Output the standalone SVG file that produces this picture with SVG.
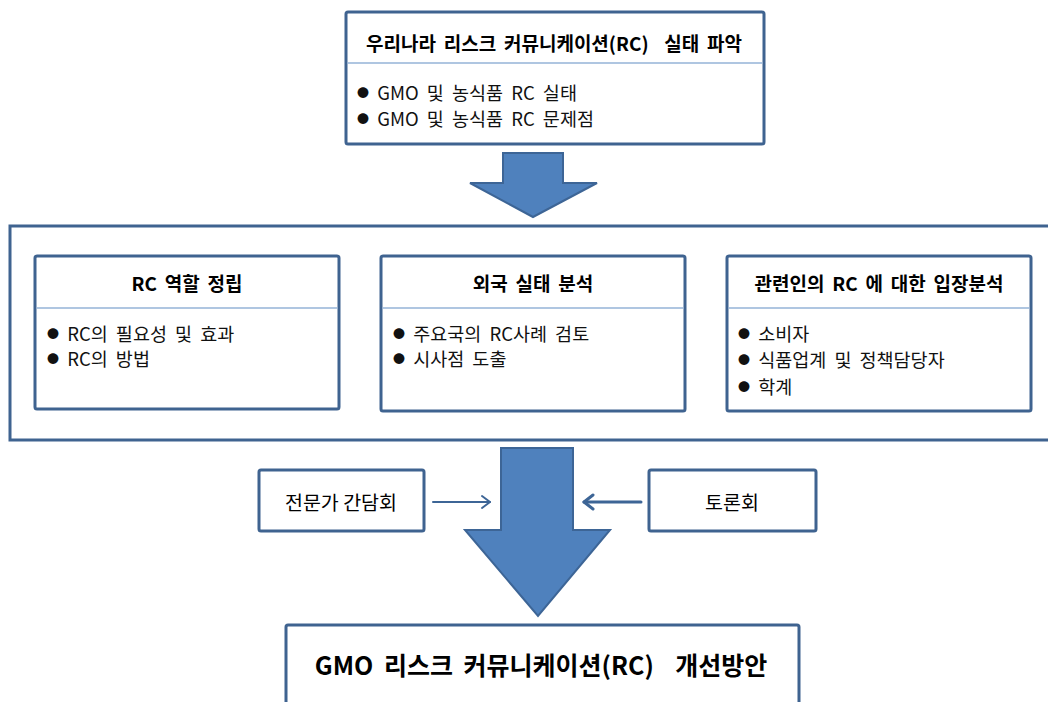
<svg xmlns="http://www.w3.org/2000/svg" width="1048" height="702" viewBox="0 0 1048 702">
  <defs>
    <style>
      .box { fill: #ffffff; stroke: #3f6390; stroke-width: 3; }
      .div { stroke: #95b3d7; stroke-width: 1.5; }
      .title { font-family: "Noto Sans CJK KR", "Noto Sans", sans-serif; font-size: 19px; font-weight: bold; fill: #000; text-anchor: middle; dominant-baseline: central; word-spacing: 3.5px; }
      .label { font-family: "Noto Sans CJK KR", "Noto Sans", sans-serif; font-size: 19.5px; fill: #000; text-anchor: middle; dominant-baseline: central; }
      .item { font-family: "Noto Sans CJK KR", "Noto Sans", sans-serif; font-size: 18.5px; fill: #111; dominant-baseline: central; word-spacing: 4px; }
      .dot { font-size: 12px; }
      .big { fill: #4f81bd; stroke: #3d6596; stroke-width: 2; stroke-linejoin: miter; }
      .thin { fill: none; stroke: #3d6596; stroke-linecap: round; stroke-linejoin: round; }
    </style>
  </defs>
  <rect width="1048" height="702" fill="#ffffff"/>

  <!-- top: current state -->
  <g id="node-current">
    <rect class="box" x="346" y="12" width="418" height="132" rx="2"/>
    <line class="div" x1="347.5" y1="63" x2="762.5" y2="63"/>
    <text class="title" x="554" y="42" xml:space="preserve">우리나라 리스크 커뮤니케이션(RC)  실태 파악</text>
    <text class="item" x="357" y="92"><tspan class="dot">●</tspan> GMO 및 농식품 RC 실태</text>
    <text class="item" x="357" y="118"><tspan class="dot">●</tspan> GMO 및 농식품 RC 문제점</text>
  </g>

  <!-- analysis container -->
  <g id="node-analysis">
    <rect class="box" x="10" y="226" width="1060" height="214"/>
  </g>

  <g id="node-role">
    <rect class="box" x="35" y="256" width="304" height="153" rx="2"/>
    <line class="div" x1="36.5" y1="308" x2="337.5" y2="308"/>
    <text class="title" x="187" y="282">RC 역할 정립</text>
    <text class="item" x="47" y="333"><tspan class="dot">●</tspan> RC의 필요성 및 효과</text>
    <text class="item" x="47" y="358"><tspan class="dot">●</tspan> RC의 방법</text>
  </g>

  <g id="node-foreign">
    <rect class="box" x="381" y="256" width="304" height="155" rx="2"/>
    <line class="div" x1="382.5" y1="308" x2="683.5" y2="308"/>
    <text class="title" x="533" y="282">외국 실태 분석</text>
    <text class="item" x="393" y="333"><tspan class="dot">●</tspan> 주요국의 RC사례 검토</text>
    <text class="item" x="393" y="358"><tspan class="dot">●</tspan> 시사점 도출</text>
  </g>

  <g id="node-stakeholders">
    <rect class="box" x="727" y="256" width="304" height="155" rx="2"/>
    <line class="div" x1="728.5" y1="308" x2="1029.5" y2="308"/>
    <text class="title" x="879" y="282">관련인의 RC 에 대한 입장분석</text>
    <text class="item" x="738" y="333"><tspan class="dot">●</tspan> 소비자</text>
    <text class="item" x="738" y="359"><tspan class="dot">●</tspan> 식품업계 및 정책담당자</text>
    <text class="item" x="738" y="386"><tspan class="dot">●</tspan> 학계</text>
  </g>

  <g id="node-experts">
    <rect class="box" x="259" y="470" width="165" height="61" rx="2"/>
    <text class="label" x="341" y="501">전문가 간담회</text>
  </g>

  <g id="node-forum">
    <rect class="box" x="649" y="470" width="167" height="61" rx="2"/>
    <text class="label" x="732" y="501">토론회</text>
  </g>

  <g id="node-result">
    <rect class="box" x="286" y="625" width="513" height="100" rx="2"/>
    <text class="title" x="541" y="664" style="font-size:25px; word-spacing:5px" xml:space="preserve">GMO 리스크 커뮤니케이션(RC)  개선방안</text>
  </g>

  <!-- connectors -->
  <g id="connectors">
    <polygon class="big" points="503,153 563,153 563,183 597,183 533,217 470,183 503,183"/>
    <polygon class="big" points="501,448 573,448 573,530 610,530 538,616 465,530 501,530"/>
    <g class="thin">
      <line x1="433" y1="502" x2="490" y2="502" stroke-width="2"/>
      <polyline points="482,496 490,502 482,508" stroke-width="2"/>
      <line x1="641" y1="502" x2="584" y2="502" stroke-width="3"/>
      <polyline points="593,495 584,502 593,509" stroke-width="3"/>
    </g>
  </g>
</svg>
